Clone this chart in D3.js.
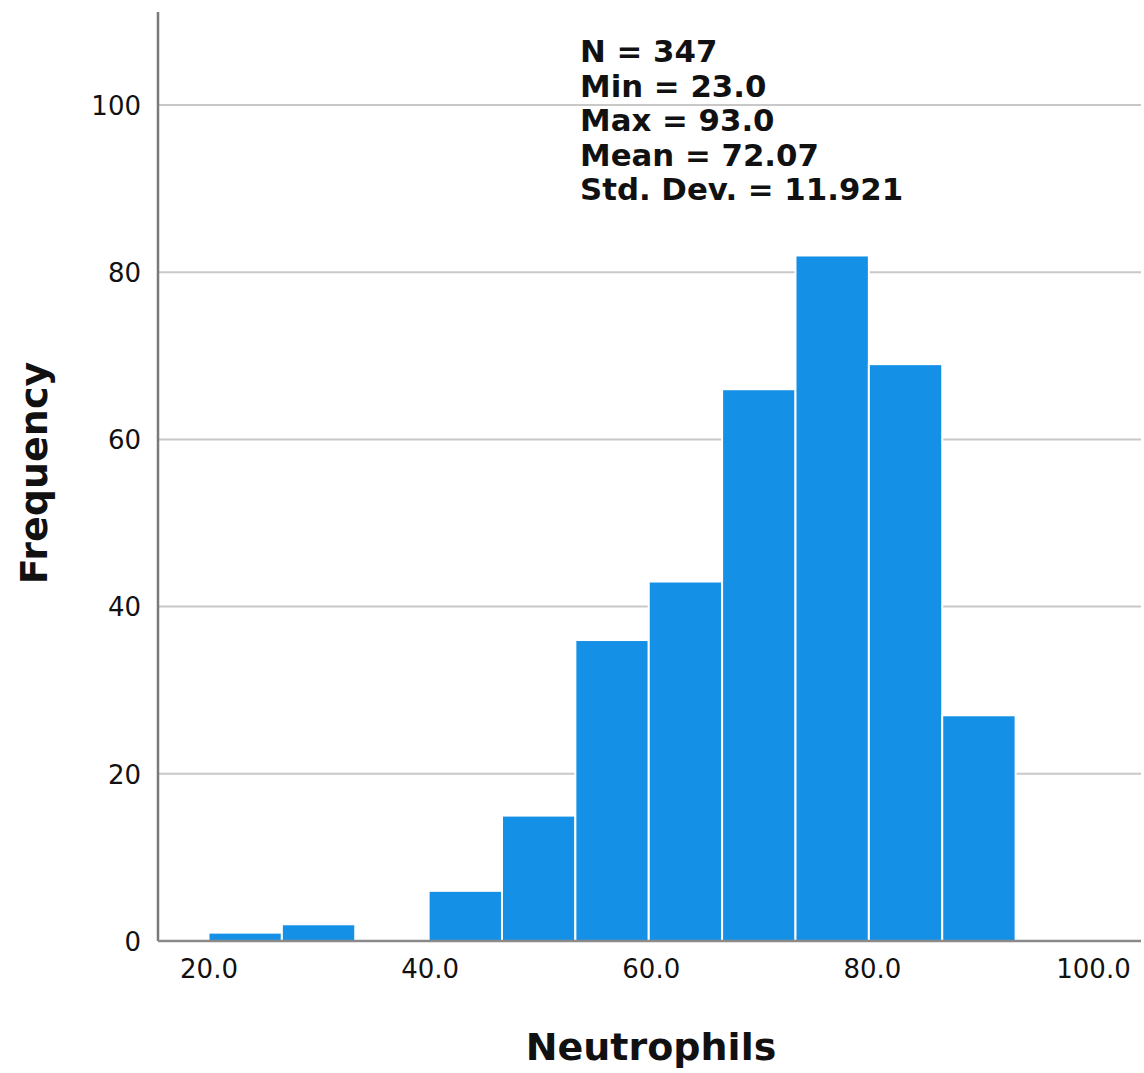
<!DOCTYPE html>
<html><head><meta charset="utf-8">
<script src="https://cdn.jsdelivr.net/npm/d3@7"></script>
<style>body{margin:0;background:#fff}</style>
</head><body>
<svg id="c" width="1144" height="1073"></svg>
<script>
const binStart = 20.0, binEnd = 93.0;
const counts = [1, 2, 0, 6, 15, 36, 43, 66, 82, 69, 27];
const xTicks = [20, 40, 60, 80, 100];
const yTicks = [0, 20, 40, 60, 80, 100];
const statsLines = ["N = 347", "Min = 23.0", "Max = 93.0", "Mean = 72.07", "Std. Dev. = 11.921"];
const xTitle = "Neutrophils", yTitle = "Frequency";

(function () {
const svg = d3.select("#c");
const pL = 158, pR = 1141, pT = 12, pB = 941;
const x = d3.scaleLinear().domain([20, 100]).range([208.5, 1093]);
const y = d3.scaleLinear().domain([0, 100]).range([pB, 105]);
const bw = (binEnd - binStart) / counts.length;
const bins = counts.map((c, i) => ({x0: binStart + i * bw, x1: binStart + (i + 1) * bw, c}));

// gridlines
svg.append("g").selectAll("line").data(yTicks.filter(d => d > 0)).join("line")
  .attr("x1", pL).attr("x2", pR).attr("y1", d => y(d)).attr("y2", d => y(d))
  .attr("stroke", "#c8c8c8").attr("stroke-width", 2);

// bars
svg.append("g").selectAll("rect").data(bins.filter(b => b.c > 0)).join("rect")
  .attr("x", b => x(b.x0)).attr("width", b => x(b.x1) - x(b.x0))
  .attr("y", b => y(b.c)).attr("height", b => y(0) - y(b.c))
  .attr("fill", "#1490e6").attr("stroke", "#ffffff").attr("stroke-width", 2);

// axes lines
svg.append("line").attr("x1", pL).attr("x2", pL).attr("y1", pT).attr("y2", pB)
  .attr("stroke", "#7a7a7a").attr("stroke-width", 2.5);
svg.append("line").attr("x1", pL).attr("x2", pR).attr("y1", pB).attr("y2", pB)
  .attr("stroke", "#8a8a8a").attr("stroke-width", 2.5);

const font = "'DejaVu Sans', sans-serif";
const ya = svg.append("g").attr("transform", `translate(${pL},0)`)
  .call(d3.axisLeft(y).tickValues(yTicks).tickSize(0).tickPadding(17).tickFormat(d3.format("d")));
ya.select(".domain").remove();
ya.selectAll("text").attr("font-family", font).attr("font-size", 26).attr("fill", "#111").attr("dy", "0.36em");

const xa = svg.append("g").attr("transform", `translate(0,${pB})`)
  .call(d3.axisBottom(x).tickValues(xTicks).tickSize(0).tickPadding(19).tickFormat(d3.format(".1f")));
xa.select(".domain").remove();
xa.selectAll("text").attr("font-family", font).attr("font-size", 26).attr("fill", "#111");

// titles
svg.append("text").attr("x", 651).attr("y", 1060).attr("text-anchor", "middle")
  .attr("font-family", font).attr("font-weight", "bold").attr("font-size", 38).attr("fill", "#111").text(xTitle);
svg.append("text").attr("transform", "translate(47,473) rotate(-90)").attr("text-anchor", "middle")
  .attr("font-family", font).attr("font-weight", "bold").attr("font-size", 38).attr("fill", "#111").text(yTitle);

// stats
svg.append("g").selectAll("text").data(statsLines).join("text")
  .attr("x", 580).attr("y", (d, i) => 62 + i * 34.5)
  .attr("font-family", font).attr("font-weight", "bold").attr("font-size", 30.8).attr("fill", "#111")
  .text(d => d);
})();
</script>
</body></html>
